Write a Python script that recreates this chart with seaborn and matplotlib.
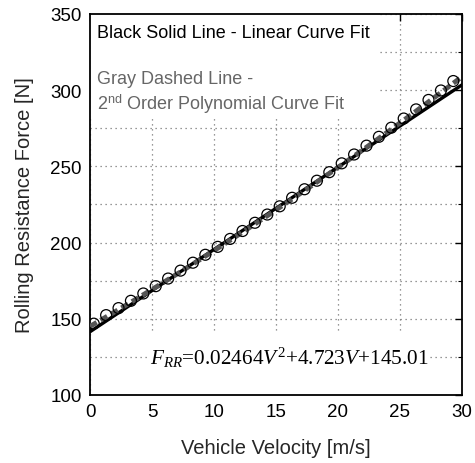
import numpy as np
import pandas as pd
import seaborn as sns
import matplotlib
matplotlib.use("Agg")
import matplotlib.pyplot as plt
from matplotlib.patches import Rectangle
from matplotlib.ticker import MultipleLocator

# ---- data ----
velocity = [0.3, 1.3, 2.3, 3.3, 4.3, 5.3, 6.3, 7.3, 8.3, 9.3,
            10.3, 11.3, 12.3, 13.3, 14.3, 15.3, 16.3, 17.3, 18.3, 19.3,
            20.3, 21.3, 22.3, 23.3, 24.3, 25.3, 26.3, 27.3, 28.3, 29.3]
force = [146.8, 152.4, 157.0, 161.8, 166.6, 171.4, 176.4, 181.6, 186.8, 192.0,
         197.2, 202.4, 207.6, 213.0, 218.4, 223.8, 229.4, 235.0, 240.6, 246.2,
         252.0, 257.8, 263.6, 269.4, 275.4, 281.4, 287.4, 293.6, 299.8, 306.0]
poly_coef = [0.02464, 4.723, 145.01]   # a V^2 + b V + c
lin_coef = [5.40, 141.5]               # m V + c
v_range = [0, 30]

xticks = [0, 5, 10, 15, 20, 25, 30]
yticks = [100, 150, 200, 250, 300, 350]

sns.set_theme(style="white")
plt.rcParams['font.family'] = ['Liberation Sans', 'DejaVu Sans']
plt.rcParams['mathtext.fontset'] = 'custom'
plt.rcParams['mathtext.rm'] = 'Liberation Serif'
plt.rcParams['mathtext.it'] = 'Liberation Serif:italic'

fig = plt.figure(figsize=(4.75, 4.64), dpi=100)
ax = fig.add_axes([0.1895, 0.1466, 0.7831, 0.8211])

vfit = np.linspace(v_range[0], v_range[1], 200)
lin_df = pd.DataFrame({"V": vfit, "F": np.polyval(lin_coef, vfit)})
poly_df = pd.DataFrame({"V": vfit, "F": np.polyval(poly_coef, vfit)})
pts = pd.DataFrame({"V": velocity, "F": force})

sns.lineplot(data=lin_df, x="V", y="F", ax=ax, color="black", lw=2.4, zorder=3)
sns.lineplot(data=poly_df, x="V", y="F", ax=ax, color="#555555", lw=3.5,
             zorder=4)
ax.lines[-1].set_linestyle((0, (1.6, 0.9)))
sns.scatterplot(data=pts, x="V", y="F", ax=ax, marker="o", s=62,
                facecolor="none", edgecolor="black", linewidth=0.9, zorder=5)

ax.set_xlim(0, 30)
ax.set_ylim(100, 350)
ax.set_xticks(xticks)
ax.set_yticks(yticks)
ax.yaxis.set_minor_locator(MultipleLocator(25))
ax.tick_params(which='both', direction='in', top=True, right=True,
               labelsize=13.5, colors='black', pad=6)
ax.tick_params(which='major', length=5, width=1)
ax.tick_params(which='minor', length=3, width=0.8)
ax.xaxis.grid(True, which='major', color='#777777', linestyle=(0, (1, 3)), lw=0.9)
ax.yaxis.grid(True, which='both', color='#777777', linestyle=(0, (1, 3)), lw=0.9)
for s in ax.spines.values():
    s.set_color('black')
    s.set_linewidth(1.3)

ax.set_xlabel("Vehicle Velocity [m/s]", fontsize=14.5, labelpad=12.5)
ax.set_ylabel("Rolling Resistance Force [N]", fontsize=14.5, labelpad=11.5)

# white boxes behind annotations
ax.add_patch(Rectangle((0, 0.724), 0.78, 0.276, transform=ax.transAxes,
                       facecolor='white', edgecolor='none', zorder=1.5))
ax.add_patch(Rectangle((0.155, 0.0), 0.76, 0.168, transform=ax.transAxes,
                       facecolor='white', edgecolor='none', zorder=1.5))

ax.text(0.019, 0.952, "Black Solid Line - Linear Curve Fit", transform=ax.transAxes,
        fontsize=13, color='black', va='center', ha='left', zorder=6)
ax.text(0.019, 0.830, "Gray Dashed Line -", transform=ax.transAxes,
        fontsize=13, color='#666666', va='center', ha='left', zorder=6)
ax.text(0.019, 0.765, r"2$^{\mathregular{nd}}$ Order Polynomial Curve Fit",
        transform=ax.transAxes, fontsize=13, color='#666666', va='center',
        ha='left', zorder=6)
ax.text(0.16, 0.10, r"$F_{RR}$=0.02464$V^2$+4.723$V$+145.01",
        transform=ax.transAxes, fontsize=15.3, family='Liberation Serif',
        color='black', va='center', ha='left', zorder=6)

fig.savefig("out.png", dpi=100)
